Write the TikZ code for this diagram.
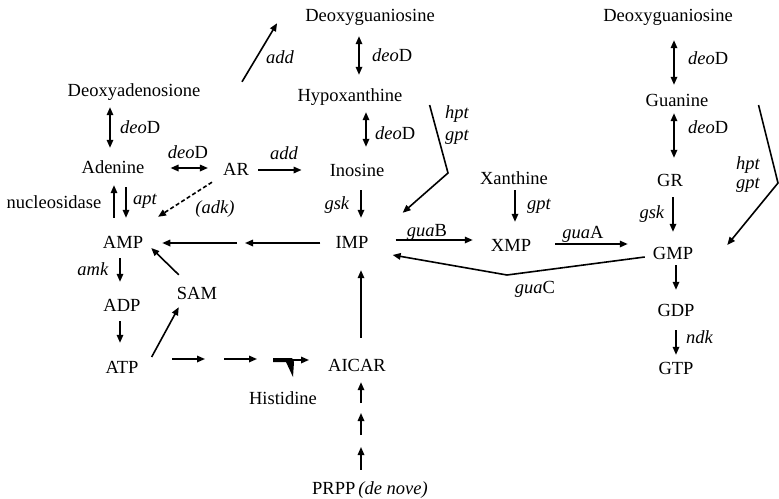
\documentclass[tikz,border=0pt]{standalone}
\usepackage{fontspec}
\setmainfont{Liberation Serif}
\usetikzlibrary{arrows.meta, calc}
\tikzset{
    met/.style={inner sep=0pt, text height=14pt, text depth=4pt},
    gene/.style={inner sep=0pt, text height=14pt, text depth=4pt},
    arr/.style={-{Triangle[length=8pt, width=6.5pt]}, line width=1.6pt},
    dbl/.style={{Triangle[length=8pt, width=6.5pt]}-{Triangle[length=8pt, width=6.5pt]}, line width=1.6pt},
    dsh/.style={arr, dash pattern=on 4pt off 2.5pt}
}

\begin{document}
\begin{tikzpicture}[x=1pt, y=-1pt, font=\fontsize{18.5}{22}\selectfont]
    \useasboundingbox (0,0) rectangle (779,498);
    % Adenine branch
    \node[met] (dade) at (134,91) {Deoxyadenosione};
    \node[met] (adenine) at (113,168) {Adenine};
    \node[met] (ar) at (236,170) {AR};
    \node[met] (amp) at (123,243) {AMP};
    \node[met] (adp) at (122,306) {ADP};
    \node[met] (atp) at (122,368) {ATP};
    \node[met] (sam) at (197,294) {SAM};
    \node[met] (his) at (283,399) {Histidine};
    \node[met] (aicar) at (357,366) {AICAR};
    \node[met, anchor=west] (prpp) at (312,489) {PRPP\,\textit{(de nove)}};
    % Inosine branch
    \node[met] (dguo1) at (370,16) {Deoxyguaniosine};
    \node[met] (hypo) at (350,96) {Hypoxanthine};
    \node[met] (ino) at (357,171) {Inosine};
    \node[met] (imp) at (352,243) {IMP};
    \node[met] (xan) at (514,179) {Xanthine};
    \node[met] (xmp) at (511,246) {XMP};
    % Guanine branch
    \node[met] (dguo2) at (668,16) {Deoxyguaniosine};
    \node[met] (gua) at (677,101) {Guanine};
    \node[met] (gr) at (670,181) {GR};
    \node[met] (gmp) at (673,254) {GMP};
    \node[met] (gdp) at (676,311) {GDP};
    \node[met] (gtp) at (676,369) {GTP};

    % Enzyme labels
    \node[gene, anchor=west] (lDeoA) at (120,128) {\textit{deo}D};
    \node[gene] (lDeoB) at (188,153) {\textit{deo}D};
    \node[gene] (lNuc) at (54,203) {nucleosidase};
    \node[gene, anchor=west] (lApt) at (133,199) {\textit{apt}};
    \node[gene] (lAdk) at (215,208) {\textit{(adk)}};
    \node[gene] (lAmk) at (93,270) {\textit{amk}};
    \node[gene] (lAddA) at (280,58) {\textit{add}};
    \node[gene, anchor=west] (lDeoC) at (372,56) {\textit{deo}D};
    \node[gene, anchor=west] (lDeoD) at (375,134) {\textit{deo}D};
    \node[gene] (lAddB) at (284,154) {\textit{add}};
    \node[gene] (lHptA) at (457,113) {\textit{hpt}};
    \node[gene] (lGptA) at (457,135) {\textit{gpt}};
    \node[gene] (lGskA) at (337,204) {\textit{gsk}};
    \node[gene, anchor=west] (lGptB) at (527,204) {\textit{gpt}};
    \node[gene] (lGuaB) at (427,231) {\textit{gua}B};
    \node[gene] (lGuaA) at (583,233) {\textit{gua}A};
    \node[gene] (lGuaC) at (535,288) {\textit{gua}C};
    \node[gene, anchor=west] (lDeoE) at (688,59) {\textit{deo}D};
    \node[gene, anchor=west] (lDeoF) at (688,128) {\textit{deo}D};
    \node[gene] (lGskB) at (652,213) {\textit{gsk}};
    \node[gene] (lHptB) at (748,164) {\textit{hpt}};
    \node[gene] (lGptC) at (748,183) {\textit{gpt}};
    \node[gene, anchor=west] (lNdk) at (686,338) {\textit{ndk}};

    % Adenine side reactions
    \draw[dbl, shorten <=7pt, shorten >=11pt] ([xshift=-3]adenine.north |- dade.south) -- ([xshift=-3]adenine.north);
    \draw[dbl, shorten <=26pt, shorten >=15pt] (adenine.east) -- (adenine.east -| ar.west);
    \draw[arr, shorten <=10pt, shorten >=16pt] ([xshift=3]amp.north |- adenine.south) -- ([xshift=3]amp.north);
    \draw[arr, shorten <=16pt, shorten >=8pt] ([xshift=-9]amp.north) -- ([xshift=-9]amp.north |- adenine.south);
    \draw[dsh] ($(ar.south)+(-24,3)$) -- ($(amp.north)+(35,-17)$);
    \draw[arr, shorten <=9pt, shorten >=28pt] (ar.east) -- (ar.east -| ino.west);
    \draw[arr] ($(ar.north)+(6,-79)$) -- ($(dguo1.south west)+(-28,-2)$);
    % Hypoxanthine / inosine
    \draw[dbl, shorten <=11pt, shorten >=12pt] ([xshift=9]hypo.north |- dguo1.south) -- ([xshift=9]hypo.north);
    \draw[dbl, shorten <=7pt, shorten >=15pt] ([xshift=9]ino.north |- hypo.south) -- ([xshift=9]ino.north);
    \coordinate (hbend) at (448,173);
    \draw[arr] ($(hypo.east)+(27,9)$) -- (hbend) -- ($(imp.north east)+(34,-21)$);
    \draw[arr, shorten <=10pt, shorten >=16pt] ([xshift=4]ino.south) -- ([xshift=4]ino.south |- imp.north);
    % IMP to AMP
    \coordinate (relay) at (241,243);
    \draw[arr, shorten <=15pt, shorten >=4pt] (imp.west) -- (relay);
    \draw[arr, shorten <=4pt, shorten >=19pt] (relay) -- (amp.east);
    % AMP, ADP, ATP, SAM
    \draw[arr, shorten <=6pt, shorten >=15pt] ([xshift=-2]adp.north |- amp.south) -- ([xshift=-2]adp.north);
    \draw[arr, shorten <=6pt, shorten >=16pt] ([xshift=-2]atp.north |- adp.south) -- ([xshift=-2]atp.north);
    \draw[arr] ($(atp.east)+(13,-11)$) -- ($(sam.south west)+(2,4)$);
    \draw[arr] ($(sam.north west)+(2,-10)$) -- ($(amp.east)+(8,5)$);
    % ATP towards histidine
    \coordinate (hA) at (172,359);
    \coordinate (hB) at (205,359);
    \coordinate (hC) at (224,359);
    \coordinate (hD) at (257,359);
    \coordinate (hE) at (273,360);
    \coordinate (hF) at (309,360);
    \draw[arr] (hA) -- (hB);
    \draw[arr] (hC) -- (hD);
    \draw[arr] (hE) -- (hF);
    \fill (273,358) -- (292,358) -- (294,362) -- (293,377) -- (286,362) -- (273,362) -- cycle;
    % de novo route
    \draw[arr, shorten <=19pt, shorten >=18pt] ([xshift=4]aicar.north) -- ([xshift=4]aicar.north |- imp.south);
    \coordinate (s1) at (361,441);
    \coordinate (s2) at (361,408);
    \draw[arr, shorten <=10pt, shorten >=6pt] (s1 |- prpp.north) -- (s1);
    \draw[arr, shorten <=6pt, shorten >=5pt] (s1) -- (s2);
    \draw[arr, shorten <=5pt, shorten >=7pt] (s2) -- (s2 |- aicar.south);
    % Xanthine, XMP, GMP
    \draw[arr, shorten <=2pt, shorten >=15pt] ([xshift=1]xan.south) -- ([xshift=1]xan.south |- xmp.north);
    \draw[arr, shorten <=27pt, shorten >=18pt] ([yshift=3]imp.east) -- ([yshift=3]imp.east -| xmp.west);
    \draw[arr, shorten <=24pt, shorten >=25pt] ([yshift=2]xmp.east) -- ([yshift=2]xmp.east -| gmp.west);
    \coordinate (cbend) at (507,275);
    \draw[arr] ($(gmp.west)+(-8,3)$) -- (cbend) -- ($(imp.east)+(24,12)$);
    % Guanine branch
    \draw[dbl, shorten <=15pt, shorten >=7pt] ([xshift=-3]gua.north |- dguo2.south) -- ([xshift=-3]gua.north);
    \draw[dbl, shorten <=3pt, shorten >=14pt] ([xshift=-3]gua.south) -- ([xshift=-3]gua.south |- gr.north);
    \draw[arr, shorten <=7pt, shorten >=13pt] ([xshift=3]gr.south) -- ([xshift=3]gr.south |- gmp.north);
    \coordinate (gbend) at (778,183);
    \draw[arr] ($(gua.east)+(50,4)$) -- (gbend) -- ($(gmp.east)+(34,-9)$);
    \draw[arr, shorten <=2pt, shorten >=12pt] ([xshift=3]gmp.south) -- ([xshift=3]gmp.south |- gdp.north);
    \draw[arr, shorten <=10pt, shorten >=5pt] (gdp.south) -- (gtp.north);
\end{tikzpicture}
\end{document}
